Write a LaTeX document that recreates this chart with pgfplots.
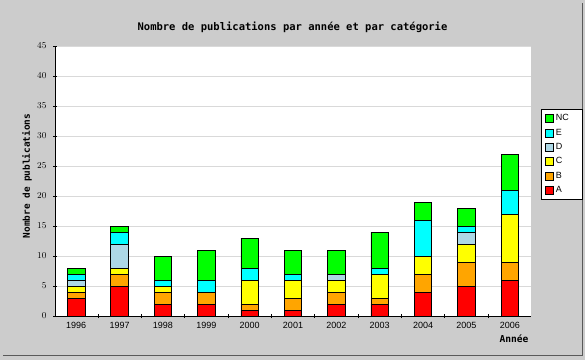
\documentclass[border=0pt]{standalone}
\usepackage{pgfplots}
\pgfplotsset{compat=1.18}
\usepackage{pgfplotstable}
\usepackage{fontspec}
\setmainfont{Liberation Sans}
\setmonofont{DejaVu Sans Mono}
\definecolor{bg}{HTML}{CCCCCC}
\definecolor{cA}{HTML}{FF0000}
\definecolor{cB}{HTML}{FFA500}
\definecolor{cC}{HTML}{FFFF00}
\definecolor{cD}{HTML}{ADD8E6}
\definecolor{cE}{HTML}{00FFFF}
\definecolor{cNC}{HTML}{00FF00}
\pgfplotstableread{
x A B C D E NC
0 3 1 1 1 1 1
1 5 2 1 4 2 1
2 2 2 1 0 1 4
3 2 2 0 0 2 5
4 1 1 4 0 2 5
5 1 2 3 0 1 4
6 2 2 2 1 0 4
7 2 1 4 0 1 6
8 4 3 3 0 6 3
9 5 4 3 2 1 3
10 6 3 8 0 4 6
}\datatable
\begin{document}
\begin{tikzpicture}
\fill[bg] (0pt,0pt) rectangle (585pt,360pt);
\draw[black!65, line width=1pt] (582pt,357pt) -- (582pt,4.5pt) -- (3pt,4.5pt);
\begin{axis}[
  at={(55pt,44pt)}, anchor=south west,
  scale only axis, width=476pt, height=270pt,
  ybar stacked, bar width=17.5pt,
  xmin=-0.49, xmax=10.49, ymin=0, ymax=45,
  ytick={0,5,...,45},
  xtick={0,...,10},
  xticklabels={1996,1997,1998,1999,2000,2001,2002,2003,2004,2005,2006},
  minor x tick num=1,
  major x tick style={draw=none},
  tick align=inside,
  major tick length=4pt, minor tick length=4pt,
  tick style={black, line width=0.8pt},
  axis x line=bottom, axis y line=left,
  axis line style={-, black, line width=0.8pt},
  axis background/.style={fill=white},
  ymajorgrids,
  grid style={black!15, line width=0.8pt},
  ticklabel style={font=\fontsize{9}{10}\selectfont},
  yticklabel style={xshift=-3pt},
  xticklabel style={yshift=-1pt},
  every axis plot/.append style={draw=black, line width=0.8pt},
  legend style={at={(axis description cs:1.021,0.765)}, anchor=north west,
    draw=black, fill=white, font=\fontsize{9}{10}\selectfont,
    row sep=2.6pt, inner xsep=4pt, inner ysep=3pt},
  legend cell align=left,
  reverse legend,
  legend image code/.code={\draw[#1, draw=black, line width=0.6pt] (0pt,-4pt) rectangle (8pt,4pt);},
]
\addplot[fill=cA] table[x=x,y=A]{\datatable};
\addplot[fill=cB] table[x=x,y=B]{\datatable};
\addplot[fill=cC] table[x=x,y=C]{\datatable};
\addplot[fill=cD] table[x=x,y=D]{\datatable};
\addplot[fill=cE] table[x=x,y=E]{\datatable};
\addplot[fill=cNC] table[x=x,y=NC]{\datatable};
\legend{\makebox[20pt][l]{A},\makebox[20pt][l]{B},\makebox[20pt][l]{C},\makebox[20pt][l]{D},\makebox[20pt][l]{E},\makebox[20pt][l]{NC}}
\end{axis}
\node[font=\ttfamily\bfseries\fontsize{10.5}{12}\selectfont] at (292.5pt,333pt) {Nombre de publications par année et par catégorie};
\node[font=\ttfamily\bfseries\fontsize{9.4}{12}\selectfont, rotate=90] at (27pt,184pt) {Nombre de publications};
\node[font=\ttfamily\bfseries\fontsize{9.6}{12}\selectfont, anchor=east] at (532pt,21.5pt) {Année};
\end{tikzpicture}
\end{document}
